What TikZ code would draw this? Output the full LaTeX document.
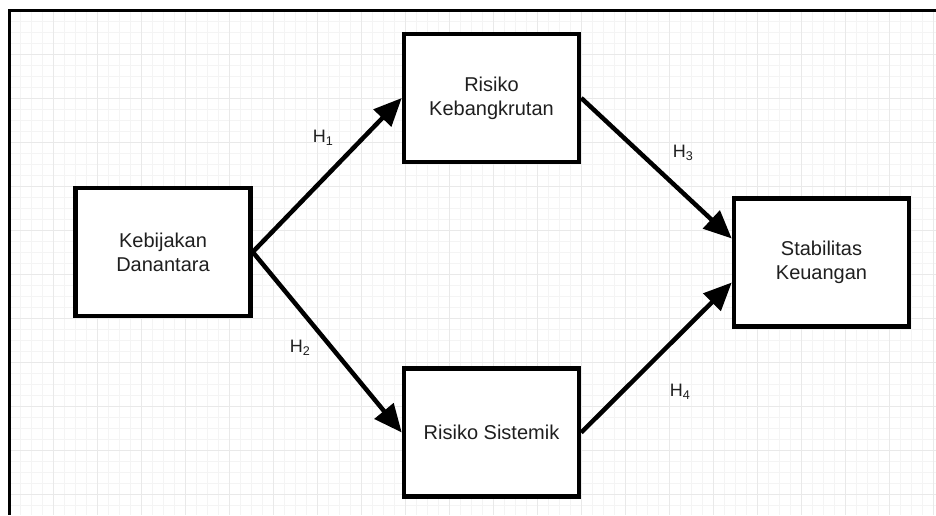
\documentclass[tikz,border=0pt]{standalone}
\usepackage{fontspec}
\setmainfont{Liberation Sans}
\usetikzlibrary{arrows.meta,calc}
\definecolor{gridminor}{gray}{0.955}
\definecolor{gridmajor}{gray}{0.915}
\definecolor{txt}{gray}{0.12}
\tikzset{
  varbox/.style={draw=black, line width=4.5pt, fill=white, minimum width=175pt, minimum height=128pt,
    align=center, text=txt, font=\fontsize{20}{24}\selectfont, inner sep=0pt},
  link/.style={line width=4.5pt, -{Triangle[length=28pt,width=24pt]}},
  hlabel/.style={text=txt, font=\fontsize{18}{20}\selectfont, inner sep=0pt}
}
\begin{document}
\begin{tikzpicture}[x=1pt,y=-1pt]
\useasboundingbox (0,0) rectangle (936,515);
\fill[white] (0,0) rectangle (936,515);
% grid
\begin{scope}
\clip (9,10) rectangle (936,515);
\foreach \i in {0,...,85} {
  \draw[gridminor, line width=0.6pt] ({9+11*\i},10) -- ({9+11*\i},515);
}
\foreach \i in {0,...,46} {
  \draw[gridminor, line width=0.6pt] (9,{10+11*\i}) -- (936,{10+11*\i});
}
\foreach \i in {0,...,21} {
  \draw[gridmajor, line width=0.8pt] ({9+44*\i},10) -- ({9+44*\i},515);
}
\foreach \i in {0,...,11} {
  \draw[gridmajor, line width=0.8pt] (9,{10+44*\i}) -- (936,{10+44*\i});
}
\end{scope}
% frame
\draw[black, line width=3pt] (936,10) -- (9,10) -- (9,515);
% nodes
\node[varbox] (keb) at (163,252) {Kebijakan\\Danantara};
\node[varbox] (rkb) at (491.5,98) {Risiko\\Kebangkrutan};
\node[varbox] (rsi) at (491.5,432.5) {Risiko Sistemik};
\node[varbox] (stab) at (821.5,262.5) {Stabilitas\\Keuangan};
% connectors
\draw[link] (keb.east) -- (rkb.west);
\draw[link] (keb.east) -- (rsi.west);
\draw[link] (rkb.east) -- ($(stab.west)+(0,-24)$);
\draw[link] (rsi.east) -- ($(stab.west)+(0,20)$);
% labels
\node[hlabel] (h1) at (323,138) {H\textsubscript{1}};
\node[hlabel] (h2) at (300,348) {H\textsubscript{2}};
\node[hlabel] (h3) at (683,153) {H\textsubscript{3}};
\node[hlabel] (h4) at (680,392) {H\textsubscript{4}};
\end{tikzpicture}
\end{document}
